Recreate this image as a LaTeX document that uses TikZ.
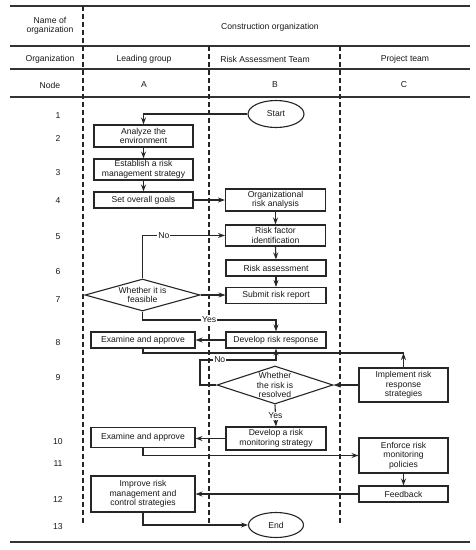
\documentclass[tikz,border=0pt]{standalone}
\usepackage{fontspec}
\setmainfont{Liberation Sans}
\usetikzlibrary{shapes.geometric,arrows.meta,calc}
\begin{document}
\begin{tikzpicture}[x=1pt,y=-1pt,
  every node/.style={font=\fontsize{8.6}{9.5}\selectfont, text=black!90},
  box/.style={draw=black!85, line width=1.1pt, rectangle, inner sep=1pt, align=center},
  oval/.style={draw=black!85, line width=1.1pt, ellipse, inner sep=0pt},
  dia/.style={draw=black!85, line width=1.1pt, diamond, inner sep=0pt},
  conn/.style={draw=black!85, line width=1.1pt},
  arr/.style={conn, -{Stealth[length=7pt,width=5pt]}},
  tline/.style={draw=black!80, line width=1.4pt},
  dline/.style={draw=black!85, line width=1.1pt, dash pattern=on 4.5pt off 3.5pt},
  lab/.style={fill=white, inner sep=1pt},
  hdr/.style={align=center}
]
\useasboundingbox (0,0) rectangle (475,550);
\fill[white] (0,0) rectangle (475,550);

% table lines
\draw[tline] (10,6) -- (470,6);
\draw[tline] (10,46) -- (470,46);
\draw[tline] (10,69) -- (470,69);
\draw[tline] (10,97) -- (470,97);
\draw[tline] (10,542) -- (470,542);
\draw[dline] (83,6) -- (83,525);
\draw[dline] (209,46) -- (209,525);
\draw[dline] (340,46) -- (340,525);

% headers
\node[hdr] (h1) at (50,26) {Name of\\organization};
\node[hdr] (h2) at (270,27) {Construction organization};
\node[hdr] (h3) at (50,59) {Organization};
\node[hdr] (h4) at (144,59) {Leading group};
\node[hdr] (h5) at (265,59) {Risk Assessment Team};
\node[hdr] (h6) at (405,59) {Project team};
\node[hdr] (h7) at (50,85) {Node};
\node[hdr] (h8) at (144,85) {A};
\node[hdr] (h9) at (275,85) {B};
\node[hdr] (h10) at (404,85) {C};

% row numbers
\node (r1) at (58,116) {1};
\node (r2) at (58,138) {2};
\node (r3) at (58,173) {3};
\node (r4) at (58,201) {4};
\node (r5) at (58,237) {5};
\node (r6) at (58,272) {6};
\node (r7) at (58,300) {7};
\node (r8) at (58,343) {8};
\node (r9) at (58,378) {9};
\node (r10) at (58,442) {10};
\node (r11) at (58,464) {11};
\node (r12) at (58,499) {12};
\node (r13) at (58,527) {13};

% nodes
\node[oval, minimum width=56, minimum height=27] (start) at (276,114) {Start};
\node[box, minimum width=99, minimum height=22] (a2) at (143.5,136) {Analyze the\\environment};
\node[box, minimum width=99, minimum height=21] (a3) at (143.5,169.5) {Establish a risk\\management strategy};
\node[box, minimum width=99, minimum height=16] (a4) at (143.5,200) {Set overall goals};
\node[box, minimum width=100, minimum height=22] (b4) at (275.5,200) {Organizational\\risk analysis};
\node[box, minimum width=100, minimum height=21] (b5) at (275.5,235.5) {Risk factor\\identification};
\node[box, minimum width=100, minimum height=16] (b6) at (276,268) {Risk assessment};
\node[box, minimum width=100, minimum height=16] (b7) at (276,295.5) {Submit risk report};
\node[dia, minimum width=115, minimum height=32] (d7) at (142.5,295) {};
\node[align=center] (d7t) at (d7.center) {Whether it is\\feasible};
\node[box, minimum width=104, minimum height=16] (a8) at (143,340) {Examine and approve};
\node[box, minimum width=100, minimum height=16] (b8) at (276,340) {Develop risk response};
\node[dia, minimum width=116, minimum height=38] (d9) at (275,385) {};
\node[align=center] (d9t) at (d9.center) {Whether\\the risk is\\resolved};
\node[box, minimum width=89, minimum height=34] (c9) at (403.5,385) {Implement risk\\response\\strategies};
\node[box, minimum width=100, minimum height=23] (b10) at (276,438.5) {Develop a risk\\monitoring strategy};
\node[box, minimum width=104, minimum height=20] (a10) at (143,437.5) {Examine and approve};
\node[box, minimum width=89, minimum height=35] (c11) at (403.5,455.5) {Enforce risk\\monitoring\\policies};
\node[box, minimum width=89, minimum height=16] (c12) at (403.5,494) {Feedback};
\node[box, minimum width=104, minimum height=36] (a12) at (143,494) {Improve risk\\management and\\control strategies};
\node[oval, minimum width=55, minimum height=25] (end) at (276,525) {End};

% helper coordinates
\coordinate (yes1) at (142.5,320);
\coordinate (j1) at (403.5,353);
\coordinate (n1) at (200,360);

% connectors
\draw[arr] (start.west) -| (a2.north);
\draw[arr] (a2.south) -- (a3.north);
\draw[arr] (a3.south) -- (a4.north);
\draw[arr] (a4.east) -- (b4.west);
\draw[arr] (b4.south) -- (b5.north);
\draw[arr] (b5.south) -- (b6.north);
\draw[arr] (b6.south) -- (b7.north);
\draw[arr] (d7.north) |- node[lab, pos=0.63] {No} (b5.west);
\draw[arr] (d7.east) -- (d7.east -| b7.west);
\draw[arr] (d7.south) -- (yes1) -| node[lab, pos=0.25] {Yes} (b8.north);
\draw[arr] (b8.west) -- (a8.east);
\draw[conn] (a8.south) |- (j1);
\draw[arr] (c9.north) -- (j1);
\draw[arr] (d9.west) -| (n1) -| node[lab, pos=0.13] {No} (b8.south);
\draw[arr] (c9.west) -- (d9.east);
\draw[arr] (d9.south) -- node[lab] {Yes} (b10.north);
\draw[arr] (b10.west) -- (b10.west -| a10.east);
\draw[arr] (a10.south) |- (c11.west);
\draw[arr] (c11.south) -- (c12.north);
\draw[arr] (c12.west) -- (a12.east);
\draw[arr] (a12.south) |- (end.west);
\end{tikzpicture}
\end{document}
